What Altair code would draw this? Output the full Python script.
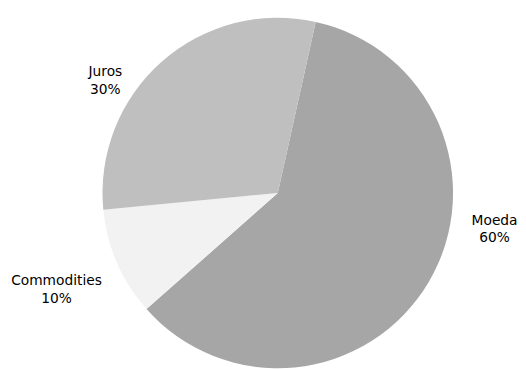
import math
import altair as alt
import pandas as pd

categories = ["Moeda", "Commodities", "Juros"]
shares = [60, 10, 30]
colors = ["#a6a6a6", "#f2f2f2", "#bfbfbf"]

df = pd.DataFrame({"cat": categories, "share": shares, "idx": list(range(len(categories)))})
df["label"] = [f"{c}\n{v}%" for c, v in zip(categories, shares)]

start = 0.2182
theta_scale = alt.Scale(domain=[0, 100], range=[start, start + 2 * math.pi])

base = alt.Chart(df)

arcs = base.mark_arc(radius=178, strokeWidth=0).encode(
    theta=alt.Theta("share:Q", stack=True, scale=theta_scale),
    color=alt.Color("cat:N", scale=alt.Scale(domain=categories, range=colors), legend=None),
    order=alt.Order("idx:Q"),
)


def label(cat, r, off):
    return (
        base.transform_stack(
            stack="share", groupby=[], as_=["s0", "s1"], sort=[alt.SortField("idx")]
        )
        .transform_calculate(mid="(datum.s0 + datum.s1) / 2")
        .transform_filter(alt.datum.cat == cat)
        .mark_text(
            radius=r,
            thetaOffset=off,
            fontSize=14,
            font="DejaVu Sans",
            lineBreak="\n",
            lineHeight=18,
            color="black",
            align="center",
            baseline="middle",
        )
        .encode(theta=alt.Theta("mid:Q", stack=False, scale=theta_scale), text="label:N")
    )


chart = (
    alt.layer(
        arcs,
        label("Moeda", 222, -0.405),
        label("Commodities", 242, 0.03),
        label("Juros", 214, -0.234),
    )
    .properties(
        width=468,
        height=370,
        padding={"left": 40, "top": 0, "right": 10, "bottom": 0},
        autosize="none",
    )
    .configure_view(stroke=None)
)

chart.save("out.html", embed_options={"renderer": "svg", "actions": False})
